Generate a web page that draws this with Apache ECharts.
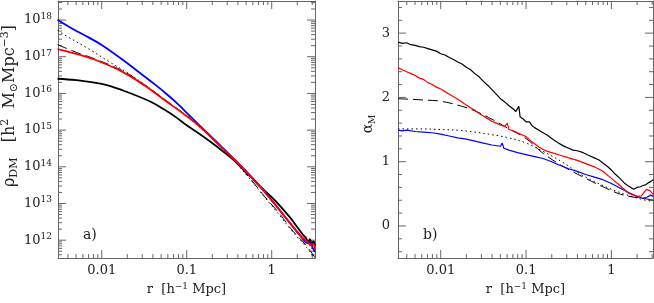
<!DOCTYPE html>
<html><head><meta charset="utf-8">
<script src="https://cdn.jsdelivr.net/npm/echarts@6/dist/echarts.min.js"></script>
<style>html,body{margin:0;padding:0;background:#fff}#c{width:654px;height:303px}</style>
</head><body><div id="c"></div>
<script>
// ---------- Panel a): pairs of [log10 r, log10 rho] ----------
const rhoBlue = [[-2.52,18.01],[-2.35,17.77],[-2.15,17.52],[-2.0,17.32],[-1.75,16.91],[-1.5,16.47],[-1.36,16.22],[-1.24,15.99],[-1.1,15.70],[-1.0,15.47],[-0.85,15.13],[-0.6,14.57],[-0.37,14.04],[-0.2,13.63],[-0.06,13.26],[0.1,12.80],[0.25,12.36],[0.35,12.08],[0.42,11.92],[0.45,11.95],[0.48,11.80],[0.51,11.68]];
const rhoRed = [[-2.52,17.21],[-2.3,17.08],[-2.07,16.91],[-1.75,16.58],[-1.5,16.22],[-1.25,15.80],[-1.0,15.38],[-0.85,15.10],[-0.6,14.55],[-0.37,14.04],[-0.2,13.62],[-0.06,13.25],[0.1,12.80],[0.25,12.37],[0.35,12.1],[0.42,11.96],[0.46,11.86],[0.49,11.9],[0.51,11.75]];
const rhoBlack = [[-2.52,16.40],[-2.3,16.36],[-2.0,16.26],[-1.75,16.08],[-1.43,15.78],[-1.25,15.54],[-1.12,15.34],[-1.0,15.13],[-0.84,14.88],[-0.65,14.56],[-0.45,14.19],[-0.25,13.73],[-0.14,13.47],[0,13.17],[0.1,12.93],[0.215,12.62],[0.3,12.36],[0.37,12.14],[0.4,12.07],[0.43,11.95],[0.45,12.03],[0.47,11.9],[0.49,11.97],[0.51,11.84]];
const rhoDashed = [[-2.52,17.33],[-2.3,17.12],[-2.07,16.93],[-1.75,16.61],[-1.5,16.24],[-1.25,15.82],[-1.0,15.39],[-0.75,14.90],[-0.5,14.33],[-0.25,13.67],[-0.08,13.18],[0.1,12.7],[0.22,12.33],[0.41,11.84],[0.51,11.52]];
const rhoDotted = [[-2.52,17.72],[-2.42,17.57],[-2.15,17.21],[-1.91,16.86],[-1.71,16.58],[-1.5,16.25],[-1.25,15.81],[-1.0,15.38],[-0.75,14.87],[-0.5,14.30],[-0.25,13.65],[-0.08,13.16],[0.1,12.66],[0.22,12.3],[0.41,11.8],[0.51,11.5]];

// ---------- Panel b): pairs of [log10 r, alpha_M] ----------
const alphaBlack = [[-2.5,2.86],[-2.45,2.84],[-2.4,2.85],[-2.35,2.82],[-2.3,2.81],[-2.25,2.79],[-2.2,2.78],[-2.15,2.76],[-2.1,2.74],[-2.05,2.72],[-2.0,2.68],[-1.95,2.66],[-1.9,2.62],[-1.85,2.59],[-1.8,2.55],[-1.75,2.52],[-1.7,2.47],[-1.65,2.43],[-1.6,2.37],[-1.55,2.32],[-1.5,2.25],[-1.45,2.19],[-1.4,2.12],[-1.35,2.05],[-1.3,1.98],[-1.25,1.93],[-1.2,1.87],[-1.15,1.82],[-1.12,1.78],[-1.1,1.76],[-1.085,1.86],[-1.07,1.70],[-1.03,1.66],[-1.0,1.62],[-0.96,1.62],[-0.93,1.56],[-0.9,1.53],[-0.85,1.49],[-0.8,1.45],[-0.75,1.41],[-0.7,1.36],[-0.63,1.30],[-0.57,1.25],[-0.5,1.21],[-0.45,1.18],[-0.4,1.17],[-0.33,1.14],[-0.27,1.10],[-0.2,1.06],[-0.15,1.03],[-0.1,0.98],[-0.05,0.93],[0.0,0.87],[0.05,0.80],[0.1,0.74],[0.15,0.67],[0.2,0.62],[0.26,0.57],[0.3,0.6],[0.34,0.61],[0.37,0.63],[0.4,0.64],[0.43,0.67],[0.46,0.69],[0.49,0.72]];
const alphaRed = [[-2.5,2.46],[-2.45,2.43],[-2.4,2.40],[-2.35,2.37],[-2.3,2.34],[-2.25,2.30],[-2.2,2.28],[-2.15,2.23],[-2.1,2.20],[-2.05,2.16],[-2.0,2.13],[-1.95,2.09],[-1.9,2.05],[-1.85,2.01],[-1.8,1.97],[-1.75,1.93],[-1.7,1.88],[-1.65,1.84],[-1.6,1.80],[-1.55,1.75],[-1.5,1.71],[-1.45,1.67],[-1.4,1.63],[-1.35,1.60],[-1.3,1.57],[-1.25,1.55],[-1.22,1.60],[-1.2,1.50],[-1.15,1.48],[-1.1,1.45],[-1.05,1.42],[-1.0,1.39],[-0.95,1.33],[-0.9,1.28],[-0.85,1.23],[-0.8,1.19],[-0.75,1.16],[-0.7,1.14],[-0.6,1.10],[-0.5,1.06],[-0.4,1.02],[-0.3,0.97],[-0.2,0.92],[-0.1,0.85],[0.0,0.74],[0.1,0.63],[0.2,0.51],[0.3,0.46],[0.35,0.47],[0.37,0.5],[0.41,0.57],[0.45,0.55],[0.49,0.49]];
const alphaBlue = [[-2.5,1.49],[-2.45,1.48],[-2.4,1.49],[-2.3,1.47],[-2.2,1.46],[-2.1,1.45],[-2.0,1.43],[-1.9,1.40],[-1.8,1.37],[-1.7,1.35],[-1.6,1.32],[-1.5,1.29],[-1.4,1.26],[-1.3,1.24],[-1.28,1.29],[-1.26,1.21],[-1.2,1.18],[-1.1,1.14],[-1.0,1.11],[-0.9,1.08],[-0.8,1.05],[-0.7,1.0],[-0.6,0.94],[-0.5,0.89],[-0.4,0.85],[-0.3,0.80],[-0.2,0.76],[-0.1,0.72],[0.0,0.66],[0.1,0.59],[0.2,0.52],[0.3,0.46],[0.37,0.43],[0.42,0.45],[0.46,0.48],[0.49,0.46]];
const alphaDashed = [[-2.5,1.98],[-2.2,1.96],[-2.0,1.94],[-1.8,1.88],[-1.6,1.79],[-1.4,1.66],[-1.2,1.51],[-1.0,1.36],[-0.8,1.13],[-0.57,0.93],[-0.33,0.76],[-0.1,0.61],[0.14,0.48],[0.37,0.43],[0.49,0.40]];
const alphaDotted = [[-2.5,1.51],[-2.2,1.51],[-2.0,1.50],[-1.8,1.49],[-1.6,1.46],[-1.4,1.42],[-1.2,1.37],[-1.0,1.29],[-0.8,1.16],[-0.57,0.99],[-0.33,0.78],[-0.1,0.63],[0.14,0.50],[0.37,0.41],[0.49,0.38]];

// ---------- ticks ----------
const rTicks = [0.01, 0.1, 1];
const rTickLabels = ['0.01', '0.1', '1'];
const rMinorTicks = [0.004,0.005,0.006,0.007,0.008,0.009,0.02,0.03,0.04,0.05,0.06,0.07,0.08,0.09,0.2,0.3,0.4,0.5,0.6,0.7,0.8,0.9,2,3];
const rhoTickExps = [12,13,14,15,16,17,18];
const rhoMinorMantissas = [2,3,4,5,6,7,8,9];
const alphaTicks = [0, 1, 2, 3];
const alphaMinorTicks = [-0.4,-0.2,0.2,0.4,0.6,0.8,1.2,1.4,1.6,1.8,2.2,2.4,2.6,2.8,3.2,3.4];

const XA = [0.00306, 3.23], XB = [0.00316, 3.07];
const YA = [3.25e11, 3.3e18], YB = [-0.5, 3.5];

const rhoMinorTicks = [];
[11].concat(rhoTickExps).forEach(e => rhoMinorMantissas.forEach(k => {
  const v = k * Math.pow(10, e); if (v > YA[0] && v < YA[1]) rhoMinorTicks.push(v);
}));

const FONT = 'DejaVu Serif';
const TXT = '#222';
const AX = '#666';

const toLogPair = p => [Math.pow(10, p[0]), Math.pow(10, p[1])];
const toAlpha = p => [Math.pow(10, p[0]), p[1]];

function baseAxis(type, gi, pos, rng, extra) {
  return Object.assign({
    type: type, gridIndex: gi, position: pos, min: rng[0], max: rng[1],
    axisLine: { show: true, onZero: false, lineStyle: { color: AX, width: 1 } },
    axisTick: { show: false }, minorTick: { show: false },
    splitLine: { show: false }, axisLabel: { show: false }
  }, extra || {});
}

function tickSeries(xi, yi, vals, dir, len, lo, hi) {
  return {
    type: 'custom', xAxisIndex: xi, yAxisIndex: yi, silent: true, z: 1, animation: false,
    data: vals.map(v => dir === 'x' ? [v, lo] : [lo, v]),
    renderItem: function (params, api) {
      if (dir === 'x') {
        const v = api.value(0);
        const b = api.coord([v, lo]), t = api.coord([v, hi]);
        return { type: 'group', children: [
          { type: 'line', shape: { x1: b[0], y1: b[1], x2: b[0], y2: b[1] - len }, style: { stroke: AX, lineWidth: 1 } },
          { type: 'line', shape: { x1: t[0], y1: t[1], x2: t[0], y2: t[1] + len }, style: { stroke: AX, lineWidth: 1 } }
        ]};
      } else {
        const v = api.value(1);
        const l = api.coord([lo, v]), r = api.coord([hi, v]);
        return { type: 'group', children: [
          { type: 'line', shape: { x1: l[0], y1: l[1], x2: l[0] + len, y2: l[1] }, style: { stroke: AX, lineWidth: 1 } },
          { type: 'line', shape: { x1: r[0], y1: r[1], x2: r[0] - len, y2: r[1] }, style: { stroke: AX, lineWidth: 1 } }
        ]};
      }
    }
  };
}

function lineSeries(xi, yi, data, color, width, dash, smooth) {
  return {
    type: 'line', xAxisIndex: xi, yAxisIndex: yi, data: data, showSymbol: false, symbol: 'none',
    silent: true, z: 3, clip: true, smooth: smooth || false,
    lineStyle: { color: color, width: width, type: dash || 'solid' }
  };
}

const labelStyle = { fontFamily: FONT, fontSize: 13, color: TXT };
const rLabel = Object.assign({ show: true, margin: 6, customValues: rTicks,
  formatter: v => { const i = rTicks.findIndex(t => Math.abs(Math.log10(t) - Math.log10(v)) < 1e-6); return i >= 0 ? rTickLabels[i] : ''; } }, labelStyle);
const xName = 'r  [h{sup|−1} Mpc]';
const nameRich = {
  sup: { fontFamily: FONT, fontSize: 9, lineHeight: 9, verticalAlign: 'top', color: TXT }
};

const option = {
  animation: false,
  backgroundColor: '#fff',
  grid: [
    { left: 58, top: 1, width: 257, height: 263 },
    { left: 398, top: 1, width: 255, height: 263 }
  ],
  xAxis: [
    baseAxis('log', 0, 'bottom', XA, { axisLabel: rLabel, name: xName, nameLocation: 'middle', nameGap: 21,
      nameTextStyle: { fontFamily: FONT, fontSize: 13, color: TXT, lineHeight: 16, rich: nameRich } }),
    baseAxis('log', 0, 'top', XA),
    baseAxis('log', 1, 'bottom', XB, { axisLabel: rLabel, name: xName, nameLocation: 'middle', nameGap: 21,
      nameTextStyle: { fontFamily: FONT, fontSize: 13, color: TXT, lineHeight: 16, rich: nameRich } }),
    baseAxis('log', 1, 'top', XB)
  ],
  yAxis: [
    baseAxis('log', 0, 'left', YA, { axisLabel: Object.assign({ show: true, margin: 6,
      customValues: rhoTickExps.map(e => Math.pow(10, e)),
      formatter: v => { const e = Math.round(Math.log10(v)); return Math.abs(Math.log10(v) - e) < 1e-6 && rhoTickExps.indexOf(e) >= 0 ? '10{sup|' + e + '}' : ''; },
      lineHeight: 16,
      rich: { sup: { fontFamily: FONT, fontSize: 9, lineHeight: 10, verticalAlign: 'top', color: TXT } } }, labelStyle) }),
    baseAxis('log', 0, 'right', YA),
    baseAxis('value', 1, 'left', YB, { axisLabel: Object.assign({ show: true, margin: 8, customValues: alphaTicks,
      formatter: v => alphaTicks.indexOf(Math.round(v)) >= 0 && Math.abs(v - Math.round(v)) < 1e-6 ? String(Math.round(v)) : '' }, labelStyle) }),
    baseAxis('value', 1, 'right', YB)
  ],
  graphic: [
    { type: 'text', x: 10, y: 106, rotation: Math.PI / 2, silent: true,
      style: { text: 'ρ{sub|DM}   [h{sup|2}  M{sub|⊙}Mpc{sup|−3}]', fontFamily: FONT, fontSize: 16, fill: TXT,
        align: 'center', verticalAlign: 'middle', lineHeight: 20,
        rich: { sub: { fontFamily: FONT, fontSize: 11, lineHeight: 11, verticalAlign: 'bottom', fill: TXT },
                sup: { fontFamily: FONT, fontSize: 11, lineHeight: 11, verticalAlign: 'top', fill: TXT } } } },
    { type: 'text', x: 368, y: 124, rotation: Math.PI / 2, silent: true,
      style: { text: 'α{sub|M}', fontFamily: FONT, fontSize: 14, fill: TXT, align: 'center', verticalAlign: 'middle', lineHeight: 18,
        rich: { sub: { fontFamily: FONT, fontSize: 9, lineHeight: 10, verticalAlign: 'bottom', fill: TXT } } } },
    { type: 'text', x: 83, y: 235, silent: true, style: { text: 'a)', fontFamily: FONT, fontSize: 14, fill: TXT, verticalAlign: 'middle' } },
    { type: 'text', x: 423, y: 235, silent: true, style: { text: 'b)', fontFamily: FONT, fontSize: 14, fill: TXT, verticalAlign: 'middle' } }
  ],
  series: [
    tickSeries(0, 0, rTicks, 'x', 8, YA[0], YA[1]),
    tickSeries(0, 0, rMinorTicks, 'x', 4, YA[0], YA[1]),
    tickSeries(0, 0, rhoTickExps.map(e => Math.pow(10, e)), 'y', 8, XA[0], XA[1]),
    tickSeries(0, 0, rhoMinorTicks, 'y', 4, XA[0], XA[1]),
    tickSeries(2, 2, rTicks, 'x', 8, YB[0], YB[1]),
    tickSeries(2, 2, rMinorTicks.filter(v => v < XB[1]), 'x', 4, YB[0], YB[1]),
    tickSeries(2, 2, alphaTicks, 'y', 8, XB[0], XB[1]),
    tickSeries(2, 2, alphaMinorTicks, 'y', 4, XB[0], XB[1]),

    lineSeries(0, 0, rhoDotted.map(toLogPair), '#000', 1, [1.5, 3], 0.4),
    lineSeries(0, 0, rhoDashed.map(toLogPair), '#000', 1, [10, 5], 0.4),
    lineSeries(0, 0, rhoBlack.map(toLogPair), '#000', 1.8, null, 0.4),
    lineSeries(0, 0, rhoBlue.map(toLogPair), '#0000ff', 1.8, null, 0.4),
    lineSeries(0, 0, rhoRed.map(toLogPair), '#ff0000', 1.8, null, 0.4),

    lineSeries(2, 2, alphaDotted.map(toAlpha), '#000', 1, [1.5, 3], 0.4),
    lineSeries(2, 2, alphaDashed.map(toAlpha), '#000', 1, [10, 5], 0.4),
    lineSeries(2, 2, alphaBlack.map(toAlpha), '#000', 1.2),
    lineSeries(2, 2, alphaBlue.map(toAlpha), '#0000ff', 1.2),
    lineSeries(2, 2, alphaRed.map(toAlpha), '#ff0000', 1.2)
  ]
};
const chart = echarts.init(document.getElementById('c'), null, { renderer: 'canvas' });
chart.setOption(option);
</script></body></html>
